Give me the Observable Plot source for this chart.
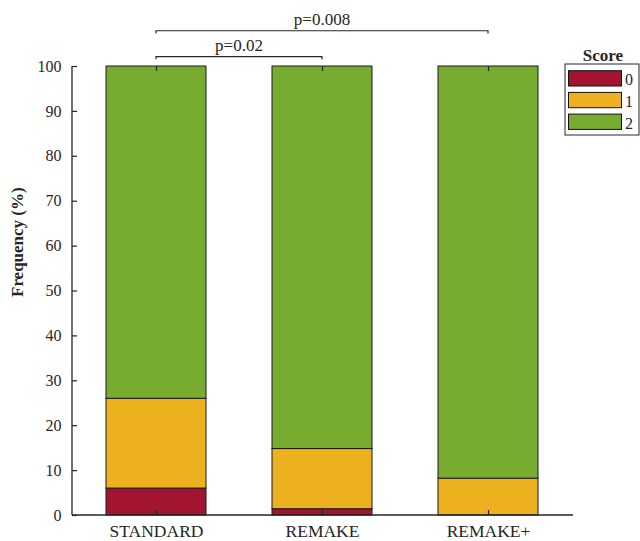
<!DOCTYPE html>
<html>
<head>
<meta charset="utf-8">
<script src="https://cdn.jsdelivr.net/npm/d3@7"></script>
<script src="https://cdn.jsdelivr.net/npm/@observablehq/plot@0.6"></script>
<style>
  body { margin: 0; background: #fff; }
  #chart { width: 640px; height: 541px; }
</style>
</head>
<body>
<div id="chart"></div>
<script>
// Score distribution per protocol (percent of cases)
const groups = ["STANDARD", "REMAKE", "REMAKE+"];
const scores = ["0", "1", "2"];
const score0 = [6, 1.4, 0];
const score1 = [20, 13.4, 8.2];
const score2 = [74, 85.2, 91.8];
const scoreColors = ["#A2142F", "#EDB120", "#77AC30"];
const yTicks = [0, 10, 20, 30, 40, 50, 60, 70, 80, 90, 100];
const comparisons = [
  { from: "STANDARD", to: "REMAKE", label: "p=0.02" },
  { from: "STANDARD", to: "REMAKE+", label: "p=0.008" }
];
const yLabel = "Frequency (%)";
const legendTitle = "Score";

const FONT = "'Liberation Serif', 'Times New Roman', serif";
const INK = "#262626";

const seriesByScore = [score0, score1, score2];
const rows = groups.flatMap((g, i) =>
  scores.map((s, j) => ({ group: g, score: s, value: seriesByScore[j][i] }))
).filter(d => d.value > 0);

const W = 640, H = 541;
const mL = 72, mR = 67, mT = 66, mB = 26;
const plotW = W - mL - mR, plotH = H - mT - mB;

// Axis lines, significance brackets and the boxed legend
function annotations(index, scales, values, dims) {
  const { x, y, color } = scales;
  const half = x.bandwidth() / 2;
  const g = d3.create("svg:g").attr("font-family", FONT);

  g.append("line")
    .attr("x1", dims.marginLeft).attr("x2", dims.marginLeft)
    .attr("y1", dims.marginTop).attr("y2", dims.height - dims.marginBottom)
    .attr("stroke", INK).attr("stroke-width", 1.3);
  g.append("line")
    .attr("x1", dims.marginLeft).attr("x2", dims.width - dims.marginRight)
    .attr("y1", y(0)).attr("y2", y(0))
    .attr("stroke", INK).attr("stroke-width", 1.3);

  comparisons.forEach((c, i) => {
    const level = 102.1 + i * 5.75;
    const drop = 0.6;
    const x1 = x(c.from) + half, x2 = x(c.to) + half;
    g.append("path")
      .attr("d", `M${x1},${y(level - drop)}V${y(level)}H${x2}V${y(level - drop)}`)
      .attr("fill", "none").attr("stroke", INK).attr("stroke-width", 1.2);
    g.append("text")
      .attr("x", (x1 + x2) / 2).attr("y", y(level) - 6)
      .attr("text-anchor", "middle").attr("font-size", 17)
      .attr("fill", INK).text(c.label);
  });

  const lx = 565, ly = 64, lw = 74, lh = 71;
  g.append("text")
    .attr("x", lx + lw / 2 + 1).attr("y", ly - 3)
    .attr("text-anchor", "middle").attr("font-size", 17).attr("font-weight", "bold")
    .attr("fill", INK).text(legendTitle);
  g.append("rect")
    .attr("x", lx).attr("y", ly).attr("width", lw).attr("height", lh)
    .attr("fill", "white").attr("stroke", INK).attr("stroke-width", 1);
  scores.forEach((s, i) => {
    const top = ly + 6.7 + i * 21.7;
    g.append("rect")
      .attr("x", lx + 3.5).attr("y", top).attr("width", 53).attr("height", 15.3)
      .attr("fill", color(s)).attr("stroke", "#111").attr("stroke-width", 1);
    g.append("text")
      .attr("x", lx + 64).attr("y", top + 14.6)
      .attr("text-anchor", "middle").attr("font-size", 16)
      .attr("fill", INK).text(s);
  });
  return g.node();
}

const chart = Plot.plot({
  width: W,
  height: H,
  marginLeft: mL,
  marginRight: mR,
  marginTop: mT,
  marginBottom: mB,
  style: { fontFamily: FONT, background: "white", color: INK, overflow: "visible" },
  x: { type: "band", domain: groups, paddingInner: 0.396, paddingOuter: 0.2025, label: null },
  y: { domain: [0, 100], label: null },
  color: { domain: scores, range: scoreColors },
  marks: [
    Plot.barY(rows, {
      x: "group", y: "value", fill: "score",
      stroke: "#1a1a1a", strokeWidth: 1
    }),
    Plot.axisY(yTicks, { tickSize: 0, tickPadding: 11, fontSize: 16, fill: INK }),
    Plot.axisX({ tickSize: 0, tickPadding: 9, fontSize: 17.5, fill: INK }),
    // inward tick marks
    Plot.tickY(yTicks, { y: d => d, stroke: INK, strokeWidth: 1.2, insetRight: plotW - 5 }),
    Plot.tickX(groups, { x: d => d, stroke: INK, strokeWidth: 1.2, insetTop: plotH - 5 }),
    Plot.tickX(groups, { x: d => d, stroke: INK, strokeWidth: 1.2, insetBottom: plotH - 5 }),
    Plot.text([yLabel], {
      frameAnchor: "left", rotate: -90, dx: -55, dy: 6,
      fontSize: 17, fontWeight: "bold", fill: INK
    }),
    annotations
  ]
});

document.getElementById("chart").appendChild(chart);
</script>
</body>
</html>
